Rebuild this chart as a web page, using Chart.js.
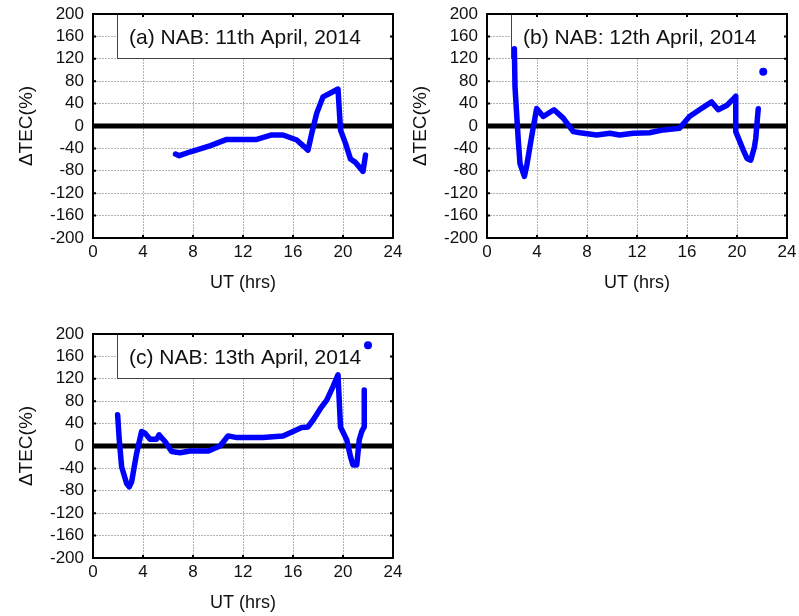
<!DOCTYPE html>
<html>
<head>
<meta charset="utf-8">
<script src="https://cdn.jsdelivr.net/npm/chart.js@4.4.0/dist/chart.umd.min.js"></script>
<style>
  body { margin: 0; background: #fff; overflow: hidden; }
  .panel { position: absolute; width: 410px; height: 300px; }
</style>
</head>
<body>
<div class="panel" style="left:0;top:0"><canvas id="chartA" width="410" height="300"></canvas></div>
<div class="panel" style="left:394px;top:0"><canvas id="chartB" width="410" height="300"></canvas></div>
<div class="panel" style="left:0;top:320px"><canvas id="chartC" width="410" height="300"></canvas></div>
<script>
// x ticks (UT hours) and y ticks (dTEC %)
const xTicks = [0, 4, 8, 12, 16, 20, 24];
const yTicks = [-200, -160, -120, -80, -40, 0, 40, 80, 120, 160, 200];

// (a) 11th April
const utA = [6.6, 6.9, 7.8, 9.4, 10.7, 13.1, 14.3, 15.2, 16.3, 17.2, 17.5, 17.9, 18.4, 19.0, 19.6, 19.8, 20.2, 20.6, 21.0, 21.6, 21.8];
const tecA = [-50, -53, -46, -35, -24, -24, -16, -16, -25, -43, -13, 23, 52, 59, 66, -7, -31, -59, -65, -81, -52];

// (b) 12th April
const utB = [2.19, 2.24, 2.5, 2.64, 2.99, 3.17, 3.57, 3.97, 4.5, 5.36, 6.1, 6.9, 7.44, 8.77, 9.84, 10.6, 11.7, 13.0, 14.1, 15.4, 16.2, 17.0, 17.97, 18.5, 19.2, 19.9, 19.9, 20.5, 20.8, 21.1, 21.4, 21.5, 21.7];
const tecB = [138, 70, -25, -67, -90, -72, -19, 31, 17, 29, 14, -10, -12, -16, -13, -16, -13, -12, -7, -4, 17, 29, 43, 29, 37, 53, -10, -43, -58, -61, -37, -22, 31];
const dotUtB = [22.1];
const dotTecB = [97];

// (c) 13th April
const utC = [1.97, 2.1, 2.29, 2.69, 2.9, 3.09, 3.49, 3.89, 4.16, 4.56, 5.09, 5.28, 5.76, 6.29, 6.96, 7.76, 9.23, 10.16, 10.8, 11.5, 12.6, 13.6, 15.2, 16.0, 16.7, 17.2, 17.6, 18.2, 18.7, 19.2, 19.6, 19.8, 20.3, 20.6, 20.8, 21.1, 21.3, 21.5, 21.7, 21.7];
const tecC = [56, 11, -37, -67, -73, -64, -13, 26, 23, 12, 12, 20, 8, -10, -12, -9, -9, 0, 18, 15, 15, 15, 18, 26, 33, 34, 46, 67, 82, 106, 127, 34, 11, -19, -34, -34, 11, 26, 34, 100];
const dotUtC = [22.0];
const dotTecC = [180];

const labels = ['(a) NAB: 11th April, 2014', '(b) NAB: 12th April, 2014', '(c) NAB: 13th April, 2014'];

const FONT = 'Arial, "Liberation Sans", sans-serif';

const toPoints = (xs, ys) => xs.map((x, i) => ({ x: x, y: ys[i] }));

// white legend box, then frame with inward ticks like matlab
const frame = {
  id: 'frame',
  beforeDatasetsDraw(chart, args, opts) {
    const { ctx, chartArea: a } = chart;
    ctx.save();
    ctx.fillStyle = '#fff';
    ctx.fillRect(117, 14, a.right - 117, 45);
    ctx.strokeStyle = '#444';
    ctx.lineWidth = 1;
    ctx.strokeRect(117.5, 14.5, a.right - 117.5, 44);
    ctx.fillStyle = '#111';
    ctx.font = '21px ' + FONT;
    ctx.textBaseline = 'middle';
    ctx.fillText(opts.text, 129, 38);
    ctx.restore();
  },
  afterDraw(chart) {
    const { ctx, chartArea: a, scales } = chart;
    ctx.save();
    ctx.strokeStyle = '#000';
    ctx.lineWidth = 2;
    ctx.strokeRect(a.left, a.top, a.right - a.left, a.bottom - a.top);
    ctx.beginPath();
    xTicks.forEach(v => {
      const px = scales.x.getPixelForValue(v);
      ctx.moveTo(px, a.bottom); ctx.lineTo(px, a.bottom - 3);
      ctx.moveTo(px, a.top); ctx.lineTo(px, a.top + 3);
    });
    yTicks.forEach(v => {
      const py = scales.y.getPixelForValue(v);
      ctx.moveTo(a.left, py); ctx.lineTo(a.left + 3, py);
      ctx.moveTo(a.right, py); ctx.lineTo(a.right - 3, py);
    });
    ctx.stroke();
    ctx.restore();
  }
};

function makeChart(id, text, xs, ys, dx, dy) {
  const datasets = [
    {
      data: toPoints([xTicks[0], xTicks[xTicks.length - 1]], [0, 0]),
      borderColor: '#000',
      borderWidth: 5,
      pointRadius: 0,
      order: 2
    },
    {
      data: toPoints(xs, ys),
      borderColor: '#0000ff',
      borderWidth: 5.5,
      pointRadius: 0,
      borderJoinStyle: 'round',
      borderCapStyle: 'round',
      order: 1
    }
  ];
  if (dx) {
    datasets.push({
      data: toPoints(dx, dy),
      showLine: false,
      pointRadius: 4,
      pointBackgroundColor: '#0000ff',
      pointBorderWidth: 0,
      order: 0
    });
  }
  return new Chart(document.getElementById(id), {
    type: 'line',
    data: { datasets },
    plugins: [frame],
    options: {
      responsive: false,
      animation: false,
      events: [],
      layout: { padding: { left: 0, right: 17, top: 14, bottom: 0 } },
      plugins: {
        legend: { display: false },
        tooltip: { enabled: false },
        frame: { text: text }
      },
      scales: {
        x: {
          type: 'linear',
          min: 0, max: 24,
          afterFit: s => { s.height = 62; s.paddingLeft = 0; s.paddingRight = 0; },
          afterBuildTicks: s => { s.ticks = xTicks.map(v => ({ value: v })); },
          ticks: { color: '#111', font: { family: FONT, size: 17 }, padding: 4, maxRotation: 0, autoSkip: false },
          grid: { color: '#b4b4b4', lineWidth: 1, drawTicks: false },
          border: { display: false, dash: [2, 1] },
          title: { display: true, text: 'UT (hrs)', color: '#111', font: { family: FONT, size: 18 }, padding: { top: 0, bottom: 6 } }
        },
        y: {
          min: -200, max: 200,
          afterFit: s => { s.width = 93; s.paddingTop = 0; s.paddingBottom = 0; },
          afterBuildTicks: s => { s.ticks = yTicks.map(v => ({ value: v })); },
          ticks: { color: '#111', font: { family: FONT, size: 17 }, padding: 9, autoSkip: false },
          grid: { color: '#b4b4b4', lineWidth: 1, drawTicks: false },
          border: { display: false, dash: [2, 1] },
          title: { display: true, text: '\u0394TEC(%)', color: '#111', font: { family: FONT, size: 19 }, padding: { top: 15, bottom: 0 } }
        }
      }
    }
  });
}

makeChart('chartA', labels[0], utA, tecA);
makeChart('chartB', labels[1], utB, tecB, dotUtB, dotTecB);
makeChart('chartC', labels[2], utC, tecC, dotUtC, dotTecC);
</script>
</body>
</html>
